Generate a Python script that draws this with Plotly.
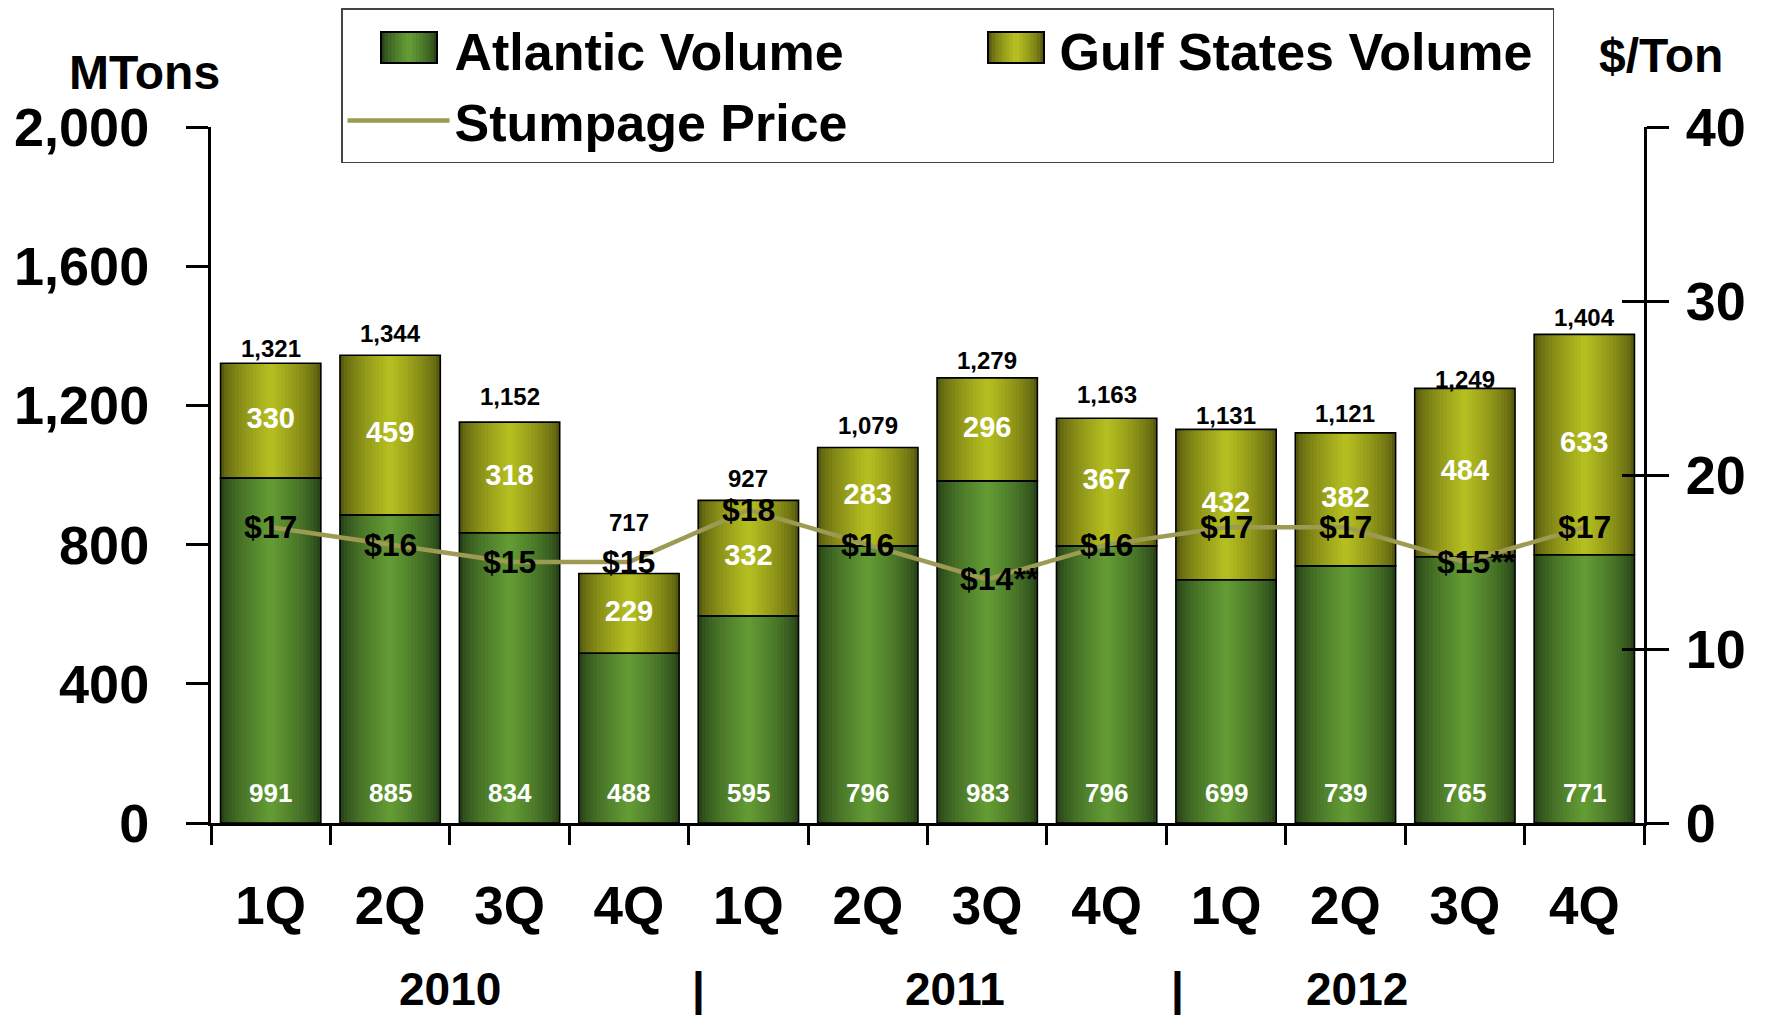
import plotly.graph_objects as go

# ---------------- data ----------------
quarters = ["1Q", "2Q", "3Q", "4Q", "1Q", "2Q", "3Q", "4Q", "1Q", "2Q", "3Q", "4Q"]
categories = ["1Q 2010", "2Q 2010", "3Q 2010", "4Q 2010",
              "1Q 2011", "2Q 2011", "3Q 2011", "4Q 2011",
              "1Q 2012", "2Q 2012", "3Q 2012", "4Q 2012"]
atlantic = [991, 885, 834, 488, 595, 796, 983, 796, 699, 739, 765, 771]
gulf = [330, 459, 318, 229, 332, 283, 296, 367, 432, 382, 484, 633]
totals = [1321, 1344, 1152, 717, 927, 1079, 1279, 1163, 1131, 1121, 1249, 1404]
price = [17, 16, 15, 15, 18, 16, 14, 16, 17, 17, 15, 17]
price_labels = ["$17", "$16", "$15", "$15", "$18", "$16", "$14**", "$16",
                "$17", "$17", "$15**", "$17"]
years = ["2010", "2011", "2012"]

# ---------------- style ----------------
FONT = "Liberation Sans, Arial, Helvetica, sans-serif"
W_PX, H_PX = 1766, 1018
ML, MT = 211, 127
PW, PH = 1433, 696
MR = W_PX - ML - PW
MB = H_PX - MT - PH

# label offsets (pixels) of the total labels above the bar tops
total_shift = [15, 22, 26, 51, 22, 22, 17, 24, 14, 19, 9, 17]


def px_x(x):  # page px -> paper
    return (x - ML) / PW


def px_y(y):
    return (MT + PH - y) / PH


def mix(c1, c2, t):
    return "rgb(%d,%d,%d)" % tuple(round(a + (b - a) * t) for a, b in zip(c1, c2))


ATL_EDGE, ATL_MID = (40, 68, 24), (98, 155, 52)
GULF_EDGE, GULF_MID = (88, 90, 14), (180, 190, 32)
BAR_W = 0.84
N_LAYERS = 14

fig = go.Figure()

# gradient-shaded stacked bars (layers of decreasing width)
for k in range(N_LAYERS):
    t = (k / (N_LAYERS - 1)) ** 0.7
    w = BAR_W * (1 - k / N_LAYERS)
    fig.add_trace(go.Bar(x=categories, y=atlantic, width=w,
                         marker=dict(color=mix(ATL_EDGE, ATL_MID, t), line=dict(width=0)),
                         showlegend=False, hoverinfo="skip"))
    fig.add_trace(go.Bar(x=categories, y=gulf, base=atlantic, width=w,
                         marker=dict(color=mix(GULF_EDGE, GULF_MID, t), line=dict(width=0)),
                         showlegend=False, hoverinfo="skip"))

# outlines
fig.add_trace(go.Bar(x=categories, y=atlantic, width=BAR_W,
                     marker=dict(color="rgba(0,0,0,0)", line=dict(color="black", width=1.6)),
                     showlegend=False, hoverinfo="skip"))
fig.add_trace(go.Bar(x=categories, y=gulf, base=atlantic, width=BAR_W,
                     marker=dict(color="rgba(0,0,0,0)", line=dict(color="black", width=1.6)),
                     showlegend=False, hoverinfo="skip"))

# legend entries (their swatches are drawn larger as shapes below)
fig.add_trace(go.Bar(x=[None], y=[None], name="Atlantic Volume",
                     marker=dict(color="rgba(0,0,0,0)", line=dict(width=0))))
fig.add_trace(go.Bar(x=[None], y=[None], name="Gulf States Volume",
                     marker=dict(color="rgba(0,0,0,0)", line=dict(width=0))))

# stumpage price line
fig.add_trace(go.Scatter(x=categories, y=price, yaxis="y2", mode="lines",
                         name="Stumpage Price", line=dict(color="#9d9a53", width=4.5),
                         hoverinfo="skip"))

# crossing ticks on the right axis
fig.add_trace(go.Scatter(x=[], y=[], yaxis="y3", showlegend=False))

# gulf segment labels
fig.add_trace(go.Scatter(x=categories, y=[a + g / 2 for a, g in zip(atlantic, gulf)], mode="text",
                         text=[str(v) for v in gulf], textposition="middle center",
                         textfont=dict(family=FONT, size=29, color="white", weight="bold"),
                         showlegend=False, hoverinfo="skip"))

annotations = []
# total labels
for c, v, s in zip(categories, totals, total_shift):
    annotations.append(dict(x=c, y=v, xref="x", yref="y", text=f"{v:,}", showarrow=False,
                            xanchor="center", yanchor="middle", yshift=s,
                            font=dict(family=FONT, size=24, color="black", weight="bold")))
# atlantic labels at the bar base
for c, v in zip(categories, atlantic):
    annotations.append(dict(x=c, y=0, xref="x", yref="y", text=str(v), showarrow=False,
                            xanchor="center", yanchor="bottom", yshift=13,
                            font=dict(family=FONT, size=26, color="white", weight="bold")))
# price labels
for c, p, lab in zip(categories, price, price_labels):
    annotations.append(dict(x=c, y=p, xref="x", yref="y2", text=lab, showarrow=False,
                            xanchor="center", yanchor="middle", borderpad=0,
                            xshift=12 if "**" in lab else 0,
                            font=dict(family=FONT, size=32, color="black", weight="bold")))
# year labels and separators
year_x = [450, 955, 1357]
sep_x = [698, 1177]
for yr, xx in zip(years, year_x):
    annotations.append(dict(x=px_x(xx), y=px_y(989), xref="paper", yref="paper", text=yr,
                            showarrow=False, xanchor="center", yanchor="middle", borderpad=0,
                            font=dict(family=FONT, size=46, color="black", weight="bold")))
for xx in sep_x:
    annotations.append(dict(x=px_x(xx), y=px_y(989), xref="paper", yref="paper", text="|",
                            showarrow=False, xanchor="center", yanchor="middle", borderpad=0,
                            font=dict(family=FONT, size=46, color="black", weight="bold")))
# axis titles
annotations.append(dict(x=px_x(144), y=px_y(73), xref="paper", yref="paper", text="MTons",
                        showarrow=False, xanchor="center", yanchor="middle",
                        font=dict(family=FONT, size=48, color="black", weight="bold")))
annotations.append(dict(x=px_x(1661), y=px_y(56), xref="paper", yref="paper", text="$/Ton",
                        showarrow=False, xanchor="center", yanchor="middle",
                        font=dict(family=FONT, size=48, color="black", weight="bold")))

# large gradient legend swatches
shapes = []
swatches = [((381, 32, 437, 63), ATL_EDGE, ATL_MID), ((988, 32, 1044, 63), GULF_EDGE, GULF_MID)]
N_SW = 8
for (x0, y0, x1, y1), ce, cm in swatches:
    half = (x1 - x0) / 2
    xc = (x0 + x1) / 2
    for k in range(N_SW):
        t = (k / (N_SW - 1)) ** 0.7
        hw = half * (1 - k / N_SW)
        shapes.append(dict(type="rect", xref="paper", yref="paper",
                           x0=px_x(xc - hw), x1=px_x(xc + hw), y0=px_y(y1), y1=px_y(y0),
                           fillcolor=mix(ce, cm, t), line=dict(width=0), layer="above"))
    shapes.append(dict(type="rect", xref="paper", yref="paper",
                       x0=px_x(x0), x1=px_x(x1), y0=px_y(y1), y1=px_y(y0),
                       fillcolor="rgba(0,0,0,0)", line=dict(color="black", width=2), layer="above"))

axis_common = dict(showgrid=False, zeroline=False, showline=True, linecolor="black",
                   linewidth=3, ticks="outside", tickcolor="black", tickwidth=3,
                   automargin=False)

fig.update_layout(
    width=W_PX, height=H_PX,
    margin=dict(l=ML, r=MR, t=MT, b=MB, pad=0, autoexpand=False),
    paper_bgcolor="white", plot_bgcolor="white",
    barmode="overlay",
    font=dict(family=FONT, color="black"),
    xaxis=dict(type="category", categoryorder="array", categoryarray=categories,
               tickmode="array", tickvals=categories, ticktext=quarters,
               tickson="boundaries", ticklen=19, ticklabelstandoff=34,
               tickfont=dict(family=FONT, size=53, weight="bold"),
               range=[-0.5, 11.5], **axis_common),
    yaxis=dict(range=[0, 2000], dtick=400, tickformat=",", ticklen=22,
               ticklabelstandoff=26, tickfont=dict(family=FONT, size=54, weight="bold"),
               **axis_common),
    yaxis2=dict(range=[0, 40], dtick=10, overlaying="y", side="right", anchor="x",
                ticklen=22, ticklabelstandoff=6,
                tickfont=dict(family=FONT, size=54, weight="bold"), **axis_common),
    yaxis3=dict(range=[0, 40], dtick=10, overlaying="y", side="right", anchor="x",
                showgrid=False, zeroline=False, showline=False, showticklabels=False,
                ticks="inside", ticklen=22, tickwidth=3, tickcolor="black", automargin=False),
    legend=dict(orientation="h", x=px_x(341), y=px_y(8), xanchor="left", yanchor="top",
                bgcolor="rgba(255,255,255,0)", bordercolor="#444", borderwidth=1.5,
                font=dict(family=FONT, size=52, color="black", weight="bold"),
                itemwidth=102, entrywidthmode="pixels", entrywidth=488,
                traceorder="normal"),
    annotations=annotations,
    shapes=shapes,
    hovermode=False,
)

fig.write_html("out.html", config={"displayModeBar": False},
               post_script="document.body.style.margin='0px';document.body.style.overflow='hidden';")
